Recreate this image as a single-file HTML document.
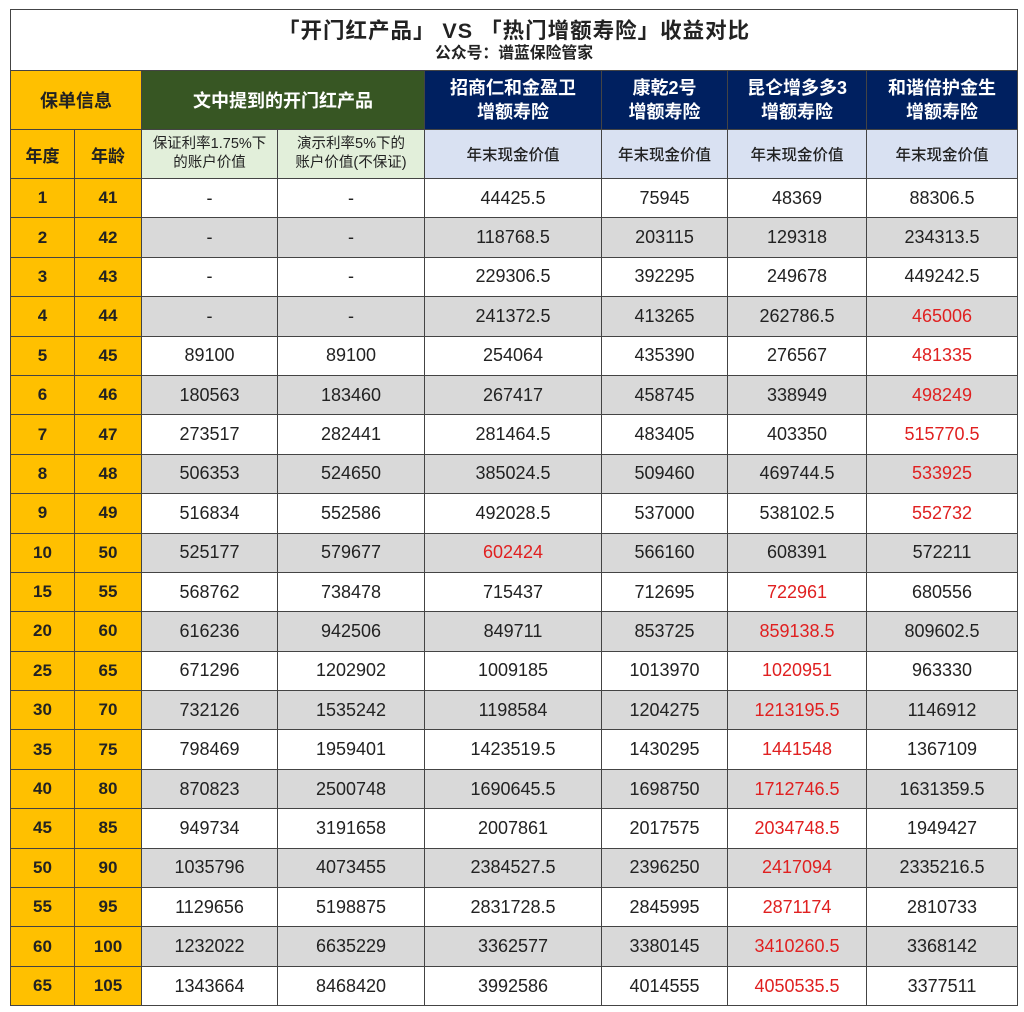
<!DOCTYPE html>
<html><head><meta charset="utf-8"><style>
body{margin:0;background:#fff;width:1024px;height:1012px;overflow:hidden;font-family:"Liberation Sans","Noto Sans CJK SC",sans-serif}
#t{position:absolute;left:10px;top:9px;border-collapse:collapse;table-layout:fixed;width:1007px}
td{border:1px solid #444;text-align:center;padding:0;font-size:18px;color:#222;overflow:hidden;white-space:nowrap}
.title{height:60px;background:#fff;border:1.5px solid #444}
.title .a{font-size:21.5px;font-weight:bold;line-height:28px;letter-spacing:1px}
.title .b{font-size:15.8px;font-weight:bold;line-height:18px}
.y{background:#ffc000;font-weight:bold;font-size:17px}
.g{background:#375623;color:#fff;font-weight:bold;font-size:18px}
.n{background:#002060;color:#fff;font-weight:bold;font-size:18px;line-height:24px}
.lg{background:#e2efda;font-size:14.5px;line-height:19px}
.lb{background:#d9e1f2;font-size:15.5px;font-weight:500}
tr.d td{height:38.4px}
tr.d:nth-child(odd) td{background:#d9d9d9}
tr.d td.y{background:#ffc000}
.r{color:#e02020}
</style></head><body>
<table id="t">
<colgroup><col style="width:64px"><col style="width:67px"><col style="width:136px"><col style="width:147px"><col style="width:177px"><col style="width:126px"><col style="width:139px"><col style="width:151px"></colgroup>
<tr><td colspan="8" class="title"><div class="a">「开门红产品」 VS 「热门增额寿险」收益对比</div><div class="b">公众号：谱蓝保险管家</div></td></tr>
<tr style="height:59px"><td colspan="2" class="y" style="font-size:18px">保单信息</td><td colspan="2" class="g">文中提到的开门红产品</td><td class="n">招商仁和金盈卫<br>增额寿险</td><td class="n">康乾2号<br>增额寿险</td><td class="n">昆仑增多多3<br>增额寿险</td><td class="n">和谐倍护金生<br>增额寿险</td></tr>
<tr style="height:49px"><td class="y">年度</td><td class="y">年龄</td><td class="lg">保证利率1.75%下<br>的账户价值</td><td class="lg">演示利率5%下的<br>账户价值(不保证)</td><td class="lb">年末现金价值</td><td class="lb">年末现金价值</td><td class="lb">年末现金价值</td><td class="lb">年末现金价值</td></tr>
<tr class="d"><td class="y">1</td><td class="y">41</td><td>-</td><td>-</td><td>44425.5</td><td>75945</td><td>48369</td><td>88306.5</td></tr>
<tr class="d"><td class="y">2</td><td class="y">42</td><td>-</td><td>-</td><td>118768.5</td><td>203115</td><td>129318</td><td>234313.5</td></tr>
<tr class="d"><td class="y">3</td><td class="y">43</td><td>-</td><td>-</td><td>229306.5</td><td>392295</td><td>249678</td><td>449242.5</td></tr>
<tr class="d"><td class="y">4</td><td class="y">44</td><td>-</td><td>-</td><td>241372.5</td><td>413265</td><td>262786.5</td><td class="r">465006</td></tr>
<tr class="d"><td class="y">5</td><td class="y">45</td><td>89100</td><td>89100</td><td>254064</td><td>435390</td><td>276567</td><td class="r">481335</td></tr>
<tr class="d"><td class="y">6</td><td class="y">46</td><td>180563</td><td>183460</td><td>267417</td><td>458745</td><td>338949</td><td class="r">498249</td></tr>
<tr class="d"><td class="y">7</td><td class="y">47</td><td>273517</td><td>282441</td><td>281464.5</td><td>483405</td><td>403350</td><td class="r">515770.5</td></tr>
<tr class="d"><td class="y">8</td><td class="y">48</td><td>506353</td><td>524650</td><td>385024.5</td><td>509460</td><td>469744.5</td><td class="r">533925</td></tr>
<tr class="d"><td class="y">9</td><td class="y">49</td><td>516834</td><td>552586</td><td>492028.5</td><td>537000</td><td>538102.5</td><td class="r">552732</td></tr>
<tr class="d"><td class="y">10</td><td class="y">50</td><td>525177</td><td>579677</td><td class="r">602424</td><td>566160</td><td>608391</td><td>572211</td></tr>
<tr class="d"><td class="y">15</td><td class="y">55</td><td>568762</td><td>738478</td><td>715437</td><td>712695</td><td class="r">722961</td><td>680556</td></tr>
<tr class="d"><td class="y">20</td><td class="y">60</td><td>616236</td><td>942506</td><td>849711</td><td>853725</td><td class="r">859138.5</td><td>809602.5</td></tr>
<tr class="d"><td class="y">25</td><td class="y">65</td><td>671296</td><td>1202902</td><td>1009185</td><td>1013970</td><td class="r">1020951</td><td>963330</td></tr>
<tr class="d"><td class="y">30</td><td class="y">70</td><td>732126</td><td>1535242</td><td>1198584</td><td>1204275</td><td class="r">1213195.5</td><td>1146912</td></tr>
<tr class="d"><td class="y">35</td><td class="y">75</td><td>798469</td><td>1959401</td><td>1423519.5</td><td>1430295</td><td class="r">1441548</td><td>1367109</td></tr>
<tr class="d"><td class="y">40</td><td class="y">80</td><td>870823</td><td>2500748</td><td>1690645.5</td><td>1698750</td><td class="r">1712746.5</td><td>1631359.5</td></tr>
<tr class="d"><td class="y">45</td><td class="y">85</td><td>949734</td><td>3191658</td><td>2007861</td><td>2017575</td><td class="r">2034748.5</td><td>1949427</td></tr>
<tr class="d"><td class="y">50</td><td class="y">90</td><td>1035796</td><td>4073455</td><td>2384527.5</td><td>2396250</td><td class="r">2417094</td><td>2335216.5</td></tr>
<tr class="d"><td class="y">55</td><td class="y">95</td><td>1129656</td><td>5198875</td><td>2831728.5</td><td>2845995</td><td class="r">2871174</td><td>2810733</td></tr>
<tr class="d"><td class="y">60</td><td class="y">100</td><td>1232022</td><td>6635229</td><td>3362577</td><td>3380145</td><td class="r">3410260.5</td><td>3368142</td></tr>
<tr class="d"><td class="y">65</td><td class="y">105</td><td>1343664</td><td>8468420</td><td>3992586</td><td>4014555</td><td class="r">4050535.5</td><td>3377511</td></tr>
</table>
</body></html>
